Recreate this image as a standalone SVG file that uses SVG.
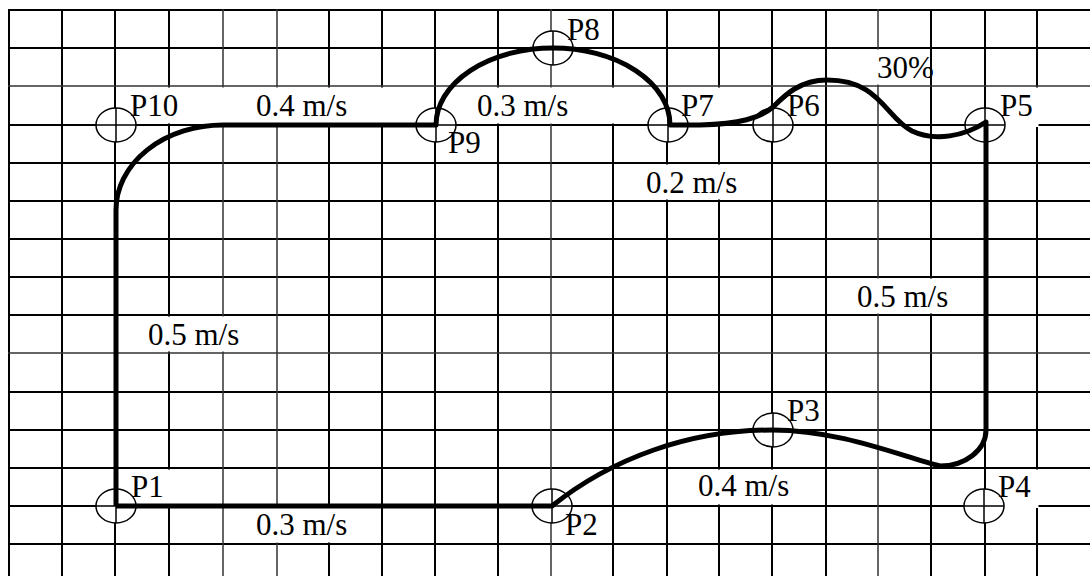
<svg xmlns="http://www.w3.org/2000/svg" width="1090" height="576" viewBox="0 0 1090 576">
<style>
.g{fill:none;stroke:#000;stroke-width:2}
.gl{fill:none;stroke:#333;stroke-width:1.5}
.bg{fill:#fff;stroke:none}
.pt{fill:#fff;stroke:#000;stroke-width:1.5}
.cr{fill:none;stroke:#000;stroke-width:1.5}
.path{fill:none;stroke:#000;stroke-width:5;stroke-linejoin:round}
.t{font-family:"Liberation Serif","Times New Roman",serif;font-size:31px;fill:#000}
</style>
<rect width="1090" height="576" fill="#fff"/>
<g id="grid">
<path class="g" d="M9,9V576M62,9V576M115,9V576M169,9V576M329,9V576M382,9V576M435,9V576M498,9V576M613,9V576M667,9V576M719,9V576M772,9V576M826,9V576M931,9V576M985,9V576M1037,9V576"/>
<path class="g" d="M8,10H1090M8,48H1090M8,125H1090M8,163H1090M8,201H1090M8,239H1090M8,277H1090M8,315H1090M8,392H1090M8,430H1090M8,468H1090M8,506H1090M8,544H1090"/>
<path class="gl" d="M223,9V576M277,9V576M551,9V576M878,9V576M8,86H1090M8,353H1090"/>
</g>
<g id="label-backgrounds">
<rect class="bg" x="118" y="87.5" width="314" height="36"/>
<rect class="bg" x="440" y="87.5" width="224" height="36"/>
<rect class="bg" x="673" y="87.5" width="51" height="36"/>
<rect class="bg" x="776" y="87.5" width="47" height="36"/>
<rect class="bg" x="988" y="87.5" width="50.5" height="39.5"/>
<rect class="bg" x="829" y="49.5" width="100" height="35"/>
<rect class="bg" x="615" y="164.5" width="155" height="35"/>
<rect class="bg" x="828" y="278.5" width="155" height="35"/>
<rect class="bg" x="118" y="316.5" width="157" height="35"/>
<rect class="bg" x="669" y="469.5" width="155" height="35"/>
<rect class="bg" x="988" y="469.5" width="50.5" height="38.5"/>
<rect class="bg" x="118" y="469.5" width="103" height="35"/>
<rect class="bg" x="225" y="507.5" width="155" height="35"/>
</g>
<g id="P1"><ellipse class="pt" cx="116" cy="506" rx="20" ry="17"/><path class="cr" d="M96,506H136M116,489V523"/><text class="t" x="131" y="497">P1</text></g>
<g id="P2"><ellipse class="pt" cx="552" cy="506" rx="20" ry="17"/><path class="cr" d="M532,506H572M552,489V523"/><text class="t" x="565" y="535">P2</text></g>
<g id="P3"><ellipse class="pt" cx="773" cy="430" rx="20" ry="17"/><path class="cr" d="M753,430H793M773,413V447"/><text class="t" x="787" y="421">P3</text></g>
<g id="P4"><ellipse class="pt" cx="984" cy="506" rx="20" ry="17"/><path class="cr" d="M964,506H1004M984,489V523"/><text class="t" x="998" y="497">P4</text></g>
<g id="P5"><ellipse class="pt" cx="985" cy="125" rx="20" ry="17"/><path class="cr" d="M965,125H1005M985,108V142"/><text class="t" x="1000" y="116">P5</text></g>
<g id="P6"><ellipse class="pt" cx="773" cy="125" rx="20" ry="17"/><path class="cr" d="M753,125H793M773,108V142"/><text class="t" x="787" y="116">P6</text></g>
<g id="P7"><ellipse class="pt" cx="668" cy="125" rx="20" ry="17"/><path class="cr" d="M648,125H688M668,108V142"/><text class="t" x="681" y="116">P7</text></g>
<g id="P8"><ellipse class="pt" cx="553" cy="48" rx="20" ry="17"/><path class="cr" d="M533,48H573M553,31V65"/><text class="t" x="567" y="40">P8</text></g>
<g id="P9"><ellipse class="pt" cx="436" cy="125" rx="20" ry="17"/><path class="cr" d="M416,125H456M436,108V142"/><text class="t" x="448" y="153">P9</text></g>
<g id="P10"><ellipse class="pt" cx="116" cy="125" rx="20" ry="17"/><path class="cr" d="M96,125H136M116,108V142"/><text class="t" x="130" y="116">P10</text></g>
<g id="connectors">
<path class="path" d="M116,506H552C612,458 690,430 772,430C840,430 900,456 940,466A46 36 0 0 0 986,430V122C965,136 935,142 912,131C885,117 880,80 827,80C800,80 785,95 773,107C760,118 740,124 700,125H670A117 77 0 0 0 436,125H223A107 85 0 0 0 116,210V506"/>
</g>
<g id="speed-labels">
<text class="t" x="256" y="116">0.4 m/s</text>
<text class="t" x="477" y="116">0.3 m/s</text>
<text class="t" x="877" y="78">30%</text>
<text class="t" x="646" y="193">0.2 m/s</text>
<text class="t" x="857" y="307">0.5 m/s</text>
<text class="t" x="148" y="345">0.5 m/s</text>
<text class="t" x="698" y="496">0.4 m/s</text>
<text class="t" x="256" y="535">0.3 m/s</text>
</g>
</svg>
